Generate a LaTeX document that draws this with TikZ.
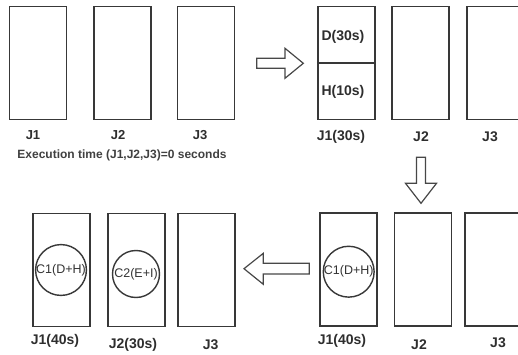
\documentclass[tikz,border=0pt]{standalone}
\usepackage{fontspec}
\setmainfont{Liberation Sans}
\begin{document}
\begin{tikzpicture}[x=1pt,y=-1pt,
  jobbox/.style={draw=black!78,line width=1.8pt,fill=white,minimum width=57pt,minimum height=113pt,inner sep=0pt},
  lbl/.style={font=\bfseries\fontsize{14}{16}\selectfont,text=black!82,inner sep=0pt},
  slbl/.style={font=\bfseries\fontsize{13}{15}\selectfont,text=black!82,inner sep=0pt},
  cls/.style={draw=black!78,line width=1.4pt,circle,inner sep=0pt,font=\fontsize{12.5}{14}\selectfont,text=black!80},
  blockarrow/.style={draw=black!72,line width=1.2pt,fill=white,line join=miter}]
\useasboundingbox (0,0) rectangle (518,355);
\begin{scope}
\clip (0,0) rectangle (518,355);
% top-left panel
\node[jobbox] (a1) at (38,63) {};
\node[jobbox] (a2) at (122.3,63) {};
\node[jobbox] (a3) at (206,63) {};
\node[slbl] (la1) at (33,135) {J1};
\node[slbl] (la2) at (118,135) {J2};
\node[slbl] (la3) at (200,135) {J3};
\node[font=\bfseries\fontsize{12}{14}\selectfont,text=black!75,inner sep=0pt] (exec) at (122,155) {Execution time (J1,J2,J3)=0 seconds};
% top-right panel
\node[jobbox] (b1) at (346.3,63) {};
\draw[draw=black!78,line width=1.8pt] (b1.west |- 0,62.7) -- (b1.east |- 0,62.7);
\node[lbl] (bd) at (343,36.7) {D(30s)};
\node[lbl] (bh) at (343,91.7) {H(10s)};
\node[jobbox] (b2) at (420.7,63) {};
\node[jobbox] (b3) at (495.5,63) {};
\node[lbl] (lb1) at (341,136.7) {J1(30s)};
\node[lbl] (lb2) at (421,136.7) {J2};
\node[lbl] (lb3) at (490,136.7) {J3};
% bottom-right panel
\node[jobbox] (c1) at (348.5,269.2) {};
\node[jobbox] (c2) at (423,269.2) {};
\node[jobbox] (c3) at (493.7,269.2) {};
\node[cls,minimum size=46pt] (cc1) at (348.7,271.7) {C1(D+H)};
\node[lbl] (lc1) at (342,340.7) {J1(40s)};
\node[lbl] (lc2) at (419,345) {J2};
\node[lbl] (lc3) at (498,343) {J3};
% bottom-left panel
\node[jobbox] (d1) at (61.3,270) {};
\node[jobbox] (d2) at (136.2,270) {};
\node[jobbox] (d3) at (206.2,270) {};
\node[cls,minimum size=48pt] (dc1) at (61,270) {C1(D+H)};
\node[cls,minimum size=47pt] (dc2) at (136,274) {C2(E+I)};
\node[lbl] (ld1) at (55,340.7) {J1(40s)};
\node[lbl] (ld2) at (133,345) {J2(30s)};
\node[lbl] (ld3) at (210.7,345) {J3};
% block arrows
\draw[blockarrow] (256.7,58.3) -- (285,58.3) -- (285,48.3) -- (303.3,63.3) -- (285,78.3) -- (285,68.3) -- (256.7,68.3) -- cycle;
\draw[blockarrow] (416.5,157.3) -- (425.5,157.3) -- (425.5,183.3) -- (436.5,183.3) -- (421,203.3) -- (405.5,183.3) -- (416.5,183.3) -- cycle;
\draw[blockarrow] (309.3,263.3) -- (263.3,263.3) -- (263.3,253.3) -- (244,268.7) -- (263.3,284.3) -- (263.3,274) -- (309.3,274) -- cycle;
\end{scope}
\end{tikzpicture}
\end{document}
